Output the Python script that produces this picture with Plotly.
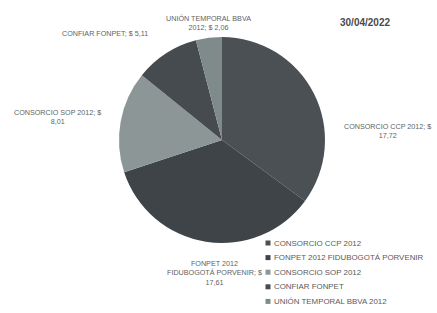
import plotly.graph_objects as go

labels = ["CONSORCIO CCP 2012", "FONPET 2012 FIDUBOGOTÁ PORVENIR", "CONSORCIO SOP 2012",
          "CONFIAR FONPET", "UNIÓN TEMPORAL BBVA 2012"]
values = [17.72, 17.61, 8.01, 5.11, 2.06]
label_lines = ["CONSORCIO CCP 2012; $<br>17,72",
               "FONPET 2012<br>FIDUBOGOTÁ PORVENIR; $<br>17,61",
               "CONSORCIO SOP 2012; $<br>8,01",
               "CONFIAR FONPET; $ 5,11",
               "UNIÓN TEMPORAL BBVA<br>2012; $ 2,06"]
date_label = "30/04/2022"

colors = ["#4a5054", "#3f4448", "#8c9696", "#464b4f", "#7f8a8a"]
FONT = "Liberation Sans Narrow, Arial Narrow, Liberation Sans, sans-serif"
W, H = 437, 313

fig = go.Figure(go.Pie(
    labels=labels, values=values, sort=False, direction="clockwise", rotation=0,
    marker=dict(colors=colors, line=dict(width=0)),
    textinfo="none", hoverinfo="label+value", showlegend=False,
    domain=dict(x=[116 / W, 328 / W], y=[1 - 243 / H, 1 - 37 / H]),
))

# slice label positions (pixels)
lx = [387, 214, 57, 105, 208]
ly = [131, 273, 117, 33, 23]
for t, x, y in zip(label_lines, lx, ly):
    fig.add_annotation(text=t, x=x / W, y=1 - y / H, xref="paper", yref="paper",
                       showarrow=False, font=dict(size=7.2, color="#5f5f5f", family=FONT),
                       align="center", xanchor="center", yanchor="middle")

fig.add_annotation(text="<b>" + date_label + "</b>", x=365 / W, y=1 - 22 / H, xref="paper", yref="paper",
                   showarrow=False, font=dict(size=10, color="#4a4a4a", family=FONT),
                   xanchor="center", yanchor="middle")

# manual legend
leg_x, leg_y0, leg_dy = 268, 243, 14.6
for i, (lab, c) in enumerate(zip(labels, colors)):
    yy = leg_y0 + i * leg_dy
    fig.add_shape(type="rect", xref="paper", yref="paper",
                  x0=(leg_x - 2.5) / W, x1=(leg_x + 2.5) / W,
                  y0=1 - (yy + 2.5) / H, y1=1 - (yy - 2.5) / H,
                  fillcolor=c, line=dict(width=0))
    fig.add_annotation(text=lab, x=(leg_x + 4) / W, y=1 - yy / H, xref="paper", yref="paper",
                       showarrow=False, font=dict(size=7.9, color="#5a5a5a", family=FONT),
                       xanchor="left", yanchor="middle")

fig.update_layout(
    width=W, height=H, margin=dict(l=0, r=0, t=0, b=0),
    paper_bgcolor="white", plot_bgcolor="white", showlegend=False,
)

fig.write_html("out.html", config={"displayModeBar": False},
               post_script="document.body.style.margin='0';document.body.style.overflow='hidden';")
